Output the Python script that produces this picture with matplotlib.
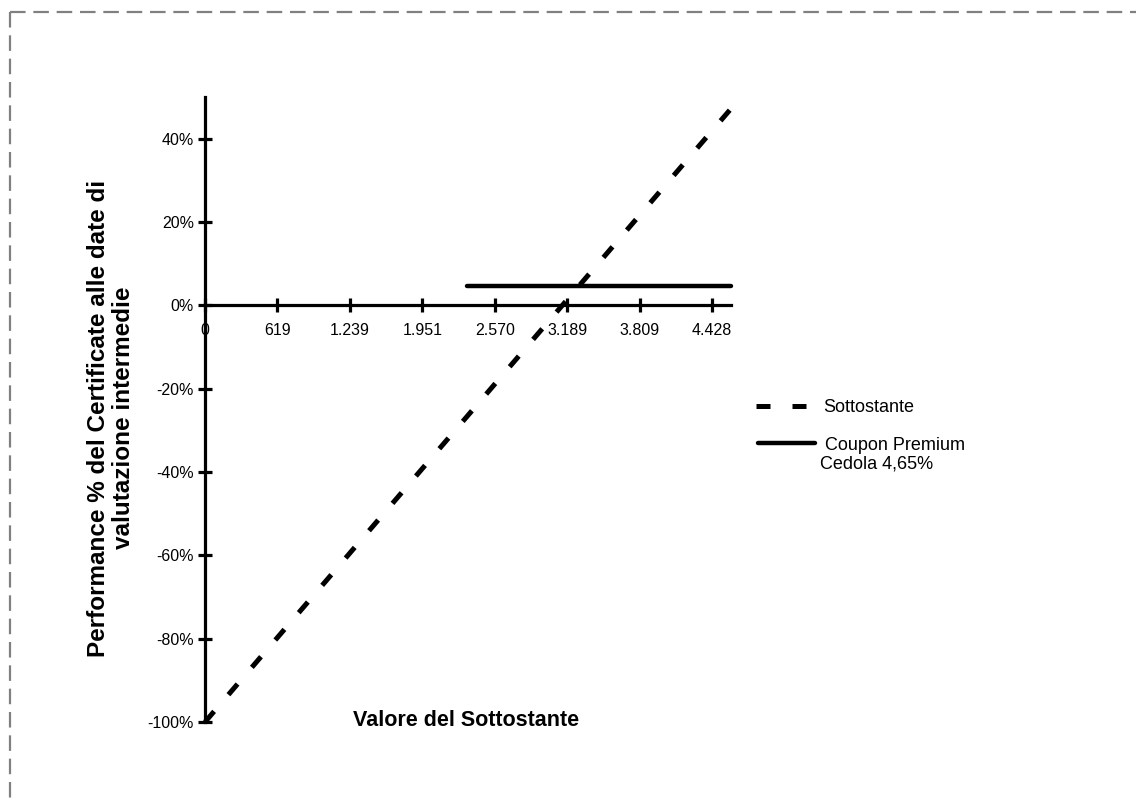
"""Payoff chart: Sottostante vs Coupon Premium (Cedola 4,65%)."""

import matplotlib
matplotlib.use("Agg")
import matplotlib.pyplot as plt
from matplotlib.lines import Line2D

# category axis of the underlying value (tick labels as printed)
x_labels = ["0", "619", "1.239", "1.951", "2.570", "3.189", "3.809", "4.428"]
x_ticks = list(range(len(x_labels)))

# series, x in category units, y in %
sott_x = [0.0, 7.25]
sott_perf = [-100.0, 47.0]
coupon_x = [3.61, 7.26]
coupon_perf = [4.65, 4.65]

y_ticks = [-100, -80, -60, -40, -20, 0, 20, 40]

W, H = 1136, 798
plt.rcParams["font.family"] = ["Liberation Sans", "DejaVu Sans"]

fig = plt.figure(figsize=(W / 100, H / 100), dpi=100)
ax = fig.add_axes([205 / W, 1 - 722 / H, 526 / W, 625 / H])

dash_style = dict(color="black", linewidth=3.6, dashes=(2.8, 4.4),
                  solid_capstyle="butt", dash_capstyle="butt")
ax.plot(sott_x, sott_perf, clip_on=False, zorder=3, **dash_style)
ax.plot(coupon_x, coupon_perf, color="black", linewidth=3.2,
        solid_capstyle="round", clip_on=False, zorder=3)

ax.set_xlim(0, 7.26)
ax.set_ylim(-100, 50)

for side in ("top", "right"):
    ax.spines[side].set_visible(False)
ax.spines["bottom"].set_position(("data", 0))
ax.spines["left"].set_linewidth(2.3)
ax.spines["bottom"].set_linewidth(2.3)

ax.set_xticks(x_ticks)
ax.set_xticklabels(x_labels)
ax.set_yticks(y_ticks)
ax.set_yticklabels([f"{v}%" for v in y_ticks])
ax.tick_params(axis="both", direction="inout", length=10, width=2.3,
               labelsize=11.5)
ax.tick_params(axis="x", pad=8)
ax.tick_params(axis="y", pad=3)

fig.text(466 / W, 1 - 720 / H, "Valore del Sottostante", fontsize=15.5,
         fontweight="bold", ha="center", va="center")
fig.text(111 / W, 1 - 418 / H,
         "Performance % del Certificate alle date di\nvalutazione intermedie",
         fontsize=17.5, fontweight="bold", rotation=90, ha="center",
         va="center", multialignment="center", linespacing=1.1)

# legend drawn by hand to match the layout
fig.add_artist(Line2D([756 / W, 817 / W], [1 - 406 / H, 1 - 406 / H],
                      transform=fig.transFigure, **dash_style))
fig.text(823 / W, 1 - 407 / H, "Sottostante", fontsize=13,
         ha="left", va="center")
fig.add_artist(Line2D([758 / W, 815 / W], [1 - 443 / H, 1 - 443 / H],
                      transform=fig.transFigure, color="black",
                      linewidth=3.2, solid_capstyle="round"))
fig.text(820 / W, 1 - 437 / H, " Coupon Premium\nCedola 4,65%", fontsize=13,
         ha="left", va="top", linespacing=1.15)

# dashed grey frame (top and left edges visible)
frame = dict(transform=fig.transFigure, color="#808080", linewidth=1.6,
             dashes=(7, 3.5))
fig.add_artist(Line2D([10 / W, 1.0], [1 - 12 / H, 1 - 12 / H], **frame))
fig.add_artist(Line2D([10 / W, 10 / W], [1 - 12 / H, 0.0], **frame))

fig.savefig("out.png", dpi=100)
